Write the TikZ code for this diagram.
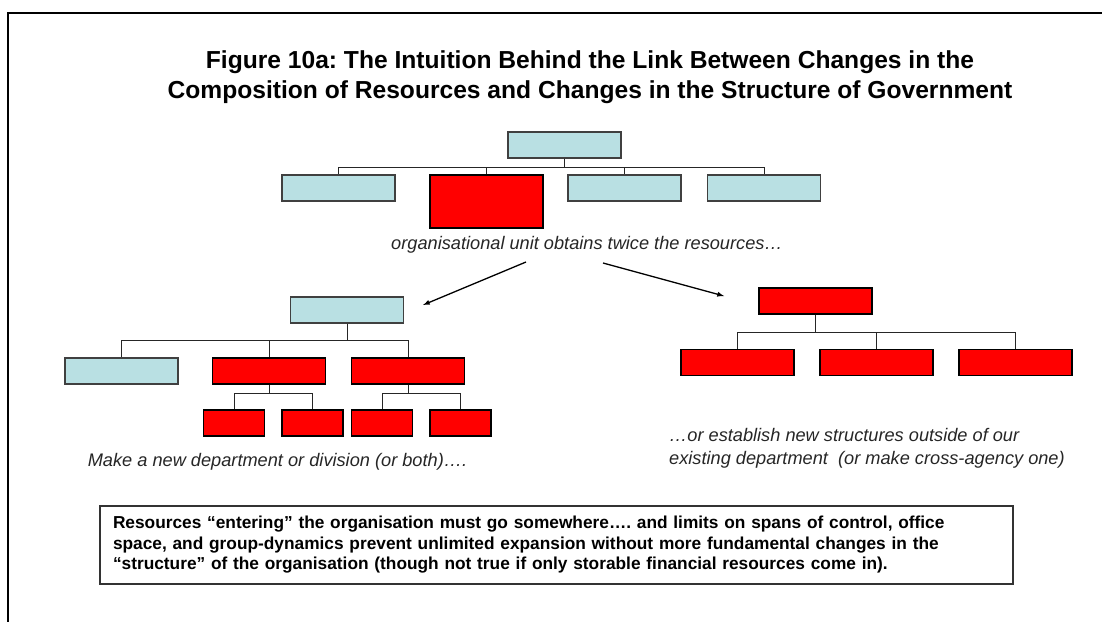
\documentclass[tikz,border=0pt]{standalone}
\usepackage{fontspec}
\setmainfont{Liberation Sans}
\definecolor{paleblue}{RGB}{185,224,227}
\frenchspacing

\begin{document}
\begin{tikzpicture}[
    x=1pt, y=-1pt,
    >=latex,
    unitbox/.style={draw=black!75, fill=paleblue, rectangle, minimum width=113pt, minimum height=26pt, line width=1.1pt, inner sep=0pt},
    hotbox/.style={unitbox, draw=black, fill=red},
    subbox/.style={hotbox, minimum width=61pt},
    link/.style={draw=black!85, line width=0.9pt},
    note/.style={font=\fontsize{18.2}{23}\selectfont\itshape, text=black!85, inner sep=0pt}
]
    \useasboundingbox (0,0) rectangle (1102,621);
    \draw [line width=1.5pt] (8,640) |- (1120,13);

    \node [font=\fontsize{24.6}{30}\selectfont\bfseries, align=center, inner sep=0pt] (title) at (590,77)
        {Figure 10a: The Intuition Behind the Link Between Changes in the\\
         Composition of Resources and Changes in the Structure of Government};

    % existing structure
    \node [unitbox] (top) at (564.5,145) {};
    \node [unitbox] (ta) at (338.5,188) {};
    \node [hotbox, minimum height=53pt] (tb) at (486.5,201.5) {};
    \node [unitbox] (tc) at (624.5,188) {};
    \node [unitbox] (td) at (764,188) {};
    \foreach \c in {ta,tb,tc,td}
        \draw [link] (top.south) -- ++(0,9) -| (\c.north);
    \node [note] (grow) at (587,245) {organisational unit obtains twice the resources\ldots};

    % new department or division
    \node [unitbox] (dept) at (347,310) {};
    \node [unitbox] (da) at (121.5,371) {};
    \node [hotbox] (db) at (269,371) {};
    \node [hotbox] (dc) at (408,371) {};
    \node [subbox] (db1) at (234,423) {};
    \node [subbox] (db2) at (312.5,423) {};
    \node [subbox] (dc1) at (382,423) {};
    \node [subbox] (dc2) at (460.5,423) {};
    \foreach \c in {da,db,dc}
        \draw [link] (dept.south) -- ++(0,17) -| (\c.north);
    \foreach \c in {db1,db2}
        \draw [link] (db.south) -- ++(0,9) -| (\c.north);
    \foreach \c in {dc1,dc2}
        \draw [link] (dc.south) -- ++(0,9) -| (\c.north);
    \node [note] (deptnote) at (277.5,462) {Make a new department or division (or both)\ldots.};

    % new structure outside
    \node [hotbox] (out) at (815.5,301) {};
    \node [hotbox] (oa) at (737.5,362.5) {};
    \node [hotbox] (ob) at (876.5,362.5) {};
    \node [hotbox] (oc) at (1015.5,362.5) {};
    \foreach \c in {oa,ob,oc}
        \draw [link] (out.south) -- ++(0,18) -| (\c.north);
    \node [note, anchor=west, align=left] (outnote) at (669,448.5)
        {\ldots or establish new structures outside of our\\
         existing department\ \ (or make cross-agency one)};

    % arrows
    \coordinate (la) at (526,262);
    \coordinate (lb) at (423,305);
    \coordinate (ra) at (603,263);
    \coordinate (rb) at (724,296);
    \draw [->, line width=1.3pt] (la) -- (lb);
    \draw [->, line width=1.3pt] (ra) -- (rb);

    \node [draw=black!80, line width=1.2pt, minimum width=913pt, minimum height=78pt, text width=887pt, align=left, inner xsep=13pt,
           font=\fontsize{17.3}{20.5}\selectfont\bfseries] (box) at (556.5,545)
        {Resources ``entering'' the organisation must go somewhere\ldots. and limits on spans of control, office\\
         space, and group-dynamics prevent unlimited expansion without more fundamental changes in the\\
         ``structure'' of the organisation (though not true if only storable financial resources come in).};

\end{tikzpicture}
\end{document}
